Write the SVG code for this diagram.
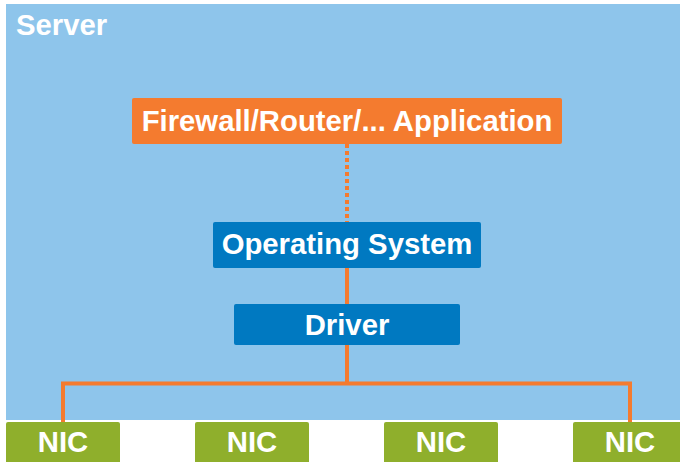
<svg xmlns="http://www.w3.org/2000/svg" width="680" height="462" viewBox="0 0 680 462">
<style>
text{font-family:"Liberation Sans",Arial,sans-serif;font-weight:bold;font-size:29.3px;fill:#fff;text-anchor:middle}
.orange{fill:#F47B2F}
.blue{fill:#0079C1}
.green{fill:#8FAF2C}
.wire{stroke:#F47B2F;stroke-width:4;fill:none}
</style>
<rect width="680" height="462" fill="#fff"/>
<g id="server">
<rect x="6" y="4" width="680" height="416" fill="#8EC5EB"/>
<text x="16" y="35" style="text-anchor:start">Server</text>
</g>
<g id="connectors">
<line class="wire" x1="347" y1="144" x2="347" y2="222" stroke-dasharray="4 3"/>
<line class="wire" x1="347" y1="268" x2="347" y2="304"/>
<path class="wire" d="M347 345V383.5M63 422V383.5H630V422"/>
</g>
<g id="app">
<rect class="orange" x="132" y="98" width="430" height="46" rx="2"/>
<text x="347" y="131">Firewall/Router/... Application</text>
</g>
<g id="os">
<rect class="blue" x="213" y="222" width="268" height="46" rx="2"/>
<text x="347" y="254">Operating System</text>
</g>
<g id="driver">
<rect class="blue" x="234" y="304" width="226" height="41" rx="2"/>
<text x="347" y="335">Driver</text>
</g>
<g id="nic1"><rect class="green" x="6" y="422" width="114" height="44" rx="2"/><text x="63" y="452">NIC</text></g>
<g id="nic2"><rect class="green" x="195" y="422" width="114" height="44" rx="2"/><text x="252" y="452">NIC</text></g>
<g id="nic3"><rect class="green" x="384" y="422" width="114" height="44" rx="2"/><text x="441" y="452">NIC</text></g>
<g id="nic4"><rect class="green" x="573" y="422" width="114" height="44" rx="2"/><text x="630" y="452">NIC</text></g>
</svg>
